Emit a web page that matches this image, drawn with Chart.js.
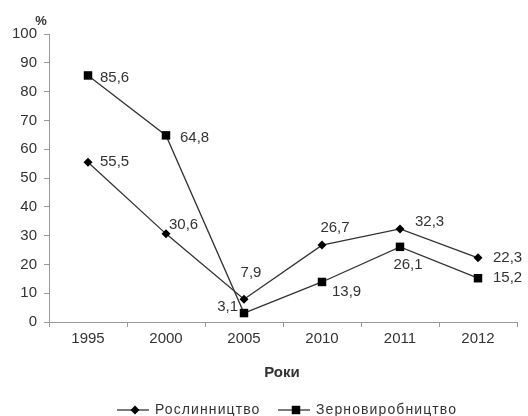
<!DOCTYPE html>
<html>
<head>
<meta charset="utf-8">
<script src="https://cdn.jsdelivr.net/npm/chart.js@4/dist/chart.umd.min.js"></script>
<style>
  body { margin: 0; background: #fff; }
  #wrap { width: 528px; height: 416px; }
</style>
</head>
<body>
<div id="wrap"><canvas id="chartContainer" width="528" height="416"></canvas></div>
<script>
// data
const years = ['1995', '2000', '2005', '2010', '2011', '2012'];
const roslynnytstvo = [55.5, 30.6, 7.9, 26.7, 32.3, 22.3];
const zernovyrobnytstvo = [85.6, 64.8, 3.1, 13.9, 26.1, 15.2];
const seriesNames = ['Рослинництво', 'Зерновиробництво'];
const yTicks = [0, 10, 20, 30, 40, 50, 60, 70, 80, 90, 100];

// where each value label sits relative to its point: [dx, dy, align]
const labelPlace = [
  [[12, 0, 'left'], [3, -9, 'left'], [7, -26, 'center'], [13, -17, 'center'], [15, -7, 'left'], [15, 0, 'left']],
  [[12, 2, 'left'], [14, 2, 'left'], [-6, -6, 'right'], [10, 10, 'left'], [8, 18, 'center'], [15, 0, 'left']]
];

const FONT = '"Liberation Sans", Arial, sans-serif';
const INK = '#333';

const extras = {
  id: 'extras',
  afterDatasetsDraw(chart) {
    const ctx = chart.ctx;
    ctx.save();
    ctx.fillStyle = INK;
    ctx.font = '15px ' + FONT;
    ctx.textBaseline = 'middle';
    chart.data.datasets.forEach((ds, i) => {
      chart.getDatasetMeta(i).data.forEach((pt, j) => {
        const p = labelPlace[i][j];
        ctx.textAlign = p[2];
        ctx.fillText(String(ds.data[j]).replace('.', ','), pt.x + p[0], pt.y + p[1]);
      });
    });
    // axis captions
    ctx.font = 'bold 13px ' + FONT;
    ctx.textAlign = 'center';
    ctx.fillText('%', 41, 21);
    ctx.font = 'bold 15px ' + FONT;
    ctx.fillText('Роки', 282, 373);
    // legend with line + marker
    const items = [
      { x: 117, name: seriesNames[0], style: 'rectRot', r: 4.5 },
      { x: 278, name: seriesNames[1], style: 'rect', r: 6 }
    ];
    const ly = 410;
    ctx.font = '14px ' + FONT;
    ctx.letterSpacing = '1.1px';
    ctx.textAlign = 'left';
    items.forEach(it => {
      ctx.strokeStyle = INK;
      ctx.lineWidth = 1.3;
      ctx.beginPath();
      ctx.moveTo(it.x, ly);
      ctx.lineTo(it.x + 32, ly);
      ctx.stroke();
      ctx.fillStyle = '#000';
      Chart.helpers.drawPoint(ctx, { pointStyle: it.style, radius: it.r, borderWidth: 0 }, it.x + 18, ly);
      ctx.fillStyle = INK;
      ctx.fillText(it.name, it.x + 38, ly);
    });
    ctx.restore();
  }
};

new Chart(document.getElementById('chartContainer').getContext('2d'), {
  type: 'line',
  data: {
    labels: years,
    datasets: [{
      label: seriesNames[0],
      data: roslynnytstvo,
      borderColor: INK,
      borderWidth: 1.3,
      pointStyle: 'rectRot',
      pointRadius: 4.5,
      pointBackgroundColor: '#000',
      pointBorderWidth: 0,
      tension: 0
    }, {
      label: seriesNames[1],
      data: zernovyrobnytstvo,
      borderColor: INK,
      borderWidth: 1.3,
      pointStyle: 'rect',
      pointRadius: 6,
      pointBackgroundColor: '#000',
      pointBorderWidth: 0,
      tension: 0
    }]
  },
  options: {
    responsive: false,
    animation: false,
    layout: { padding: { top: 34, right: 11, left: 0, bottom: 0 } },
    plugins: { legend: { display: false }, tooltip: { enabled: false } },
    scales: {
      x: {
        offset: true,
        grid: { offset: true, drawOnChartArea: false, color: '#999', tickLength: 5 },
        border: { color: '#999' },
        ticks: { color: INK, font: { family: FONT, size: 15 }, padding: 3, maxRotation: 0 },
        afterFit(scale) { scale.height = 94; }
      },
      y: {
        min: 0,
        max: 100,
        afterBuildTicks(scale) { scale.ticks = yTicks.map(v => ({ value: v })); },
        grid: { drawOnChartArea: false, color: '#999', tickLength: 5 },
        border: { color: '#999' },
        ticks: { color: INK, font: { family: FONT, size: 15 }, padding: 7 },
        afterFit(scale) { scale.width = 49; }
      }
    }
  },
  plugins: [extras]
});
</script>
</body>
</html>
